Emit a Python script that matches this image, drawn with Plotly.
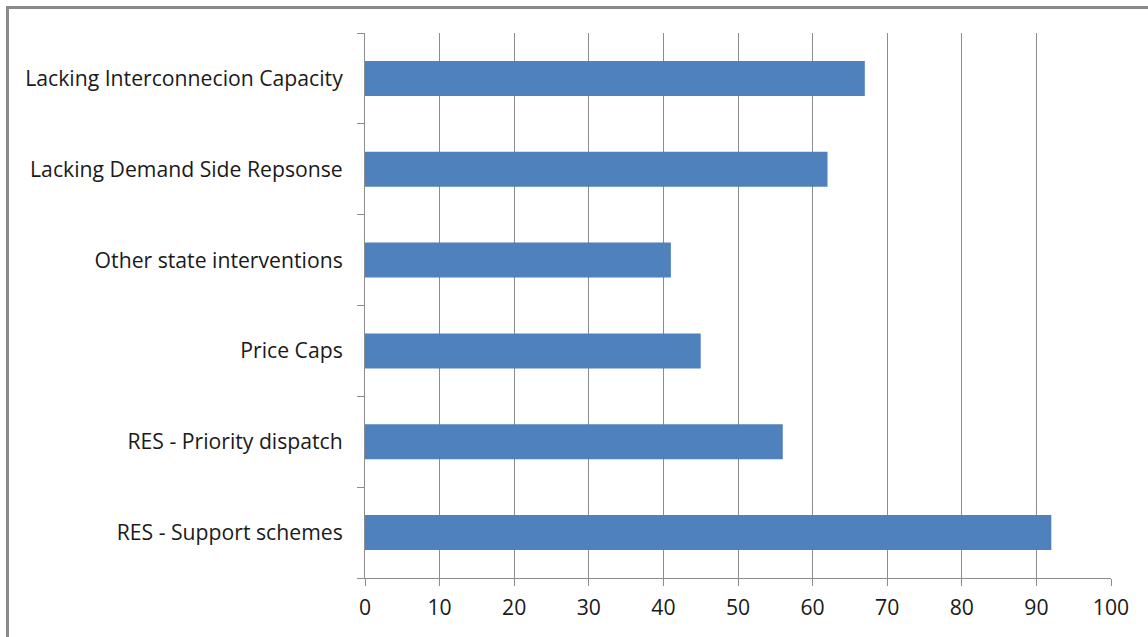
import plotly.graph_objects as go

categories = [
    "RES - Support schemes",
    "RES - Priority dispatch",
    "Price Caps",
    "Other state interventions",
    "Lacking Demand Side Repsonse",
    "Lacking Interconnecion Capacity",
]
values = [92, 56, 45, 41, 62, 67]
x_ticks = list(range(0, 101, 10))

W, H = 1148, 637
L, R, T, B = 365, 37, 33, 59
pw, ph = W - L - R, H - T - B

fig = go.Figure(go.Bar(
    y=categories, x=values, orientation="h",
    marker=dict(color="#4F81BD", line=dict(width=0)),
))

font = dict(family="Open Sans, sans-serif", size=21.2, color="#1a1a1a")

fig.update_layout(
    width=W, height=H,
    margin=dict(l=L, r=R, t=T, b=B),
    paper_bgcolor="white", plot_bgcolor="white",
    bargap=0.615,
    showlegend=False,
    font=font,
    xaxis=dict(
        range=[0, 100], tickvals=x_ticks, ticktext=[str(v) for v in x_ticks],
        showgrid=True, gridcolor="#8c8c8c", gridwidth=1,
        showline=True, linecolor="#8c8c8c", linewidth=1,
        ticks="outside", ticklen=7, tickcolor="#8c8c8c",
        zeroline=False, tickfont=font, ticklabelstandoff=4, fixedrange=True,
    ),
    yaxis=dict(
        categoryorder="array", categoryarray=categories,
        showline=True, linecolor="#8c8c8c", linewidth=1,
        ticks="outside", ticklen=7, tickcolor="#8c8c8c", tickson="boundaries",
        showgrid=False, tickfont=font, ticklabelstandoff=17, fixedrange=True,
    ),
    shapes=[dict(
        type="rect", xref="paper", yref="paper",
        x0=(7.5 - L) / pw, x1=1.2, y0=-0.3, y1=1 + (T - 7.5) / ph,
        line=dict(color="#8a8a8a", width=3), fillcolor="rgba(0,0,0,0)", layer="above",
    )],
)

fig.write_html("out.html")
